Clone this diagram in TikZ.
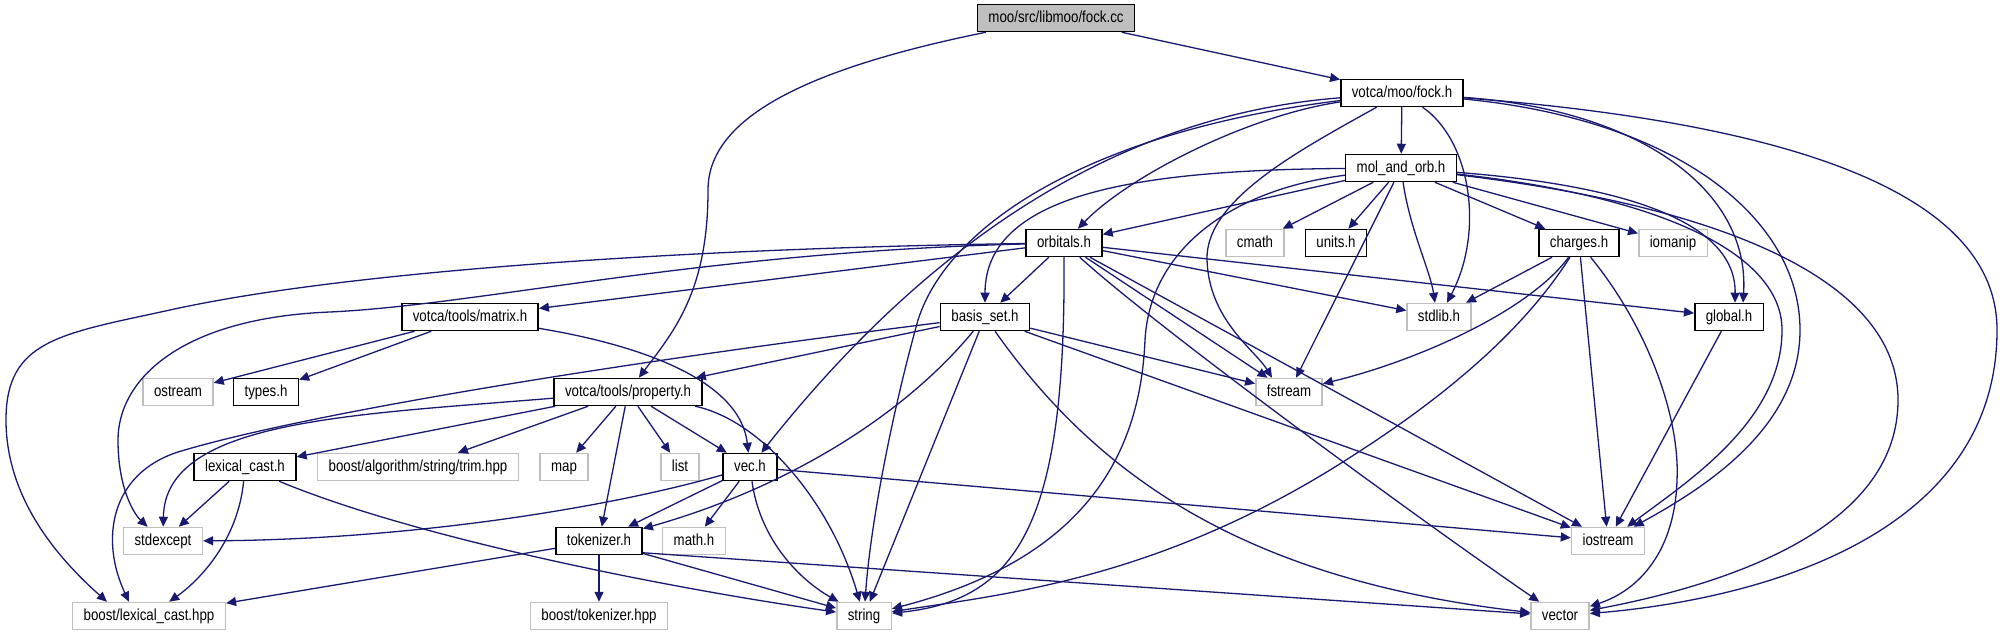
\documentclass[tikz,border=0pt]{standalone}
\usepackage{fontspec}
\setmainfont{Liberation Sans}[FakeStretch=0.83]
\usepackage{tikz}
\usetikzlibrary{arrows.meta}
\definecolor{edgeblue}{HTML}{191970}
\definecolor{sysgray}{HTML}{BFBFBF}
\definecolor{rootgray}{HTML}{BFBFBF}

\begin{document}
\begin{tikzpicture}[
  x=0.5pt, y=-0.5pt,
  fbox/.style = {draw=black, fill=white, line width=0.75pt, inner xsep=5.5pt, inner ysep=0pt, minimum height=13.5pt, text height=6pt, text depth=1.6pt, font=\fontsize{8}{9}\selectfont},
  sbox/.style = {fbox, draw=sysgray},
  rbox/.style = {fbox, fill=rootgray},
  dep/.style  = {-{Triangle[length=5pt,width=4.5pt]}, line width=0.65pt, color=edgeblue},
]
\useasboundingbox (0,0) rectangle (2005,635);
%%--- rows 0-3 ---
\node[rbox] (fockcc)   at (1056,18)  {moo/src/libmoo/fock.cc};
\node[fbox] (fockh)    at (1402,93)  {votca/moo/fock.h};
\node[fbox] (molorb)   at (1401,168) {mol\_and\_orb.h};
\node[fbox] (orbitals) at (1064,243) {orbitals.h};
\node[sbox] (cmath)    at (1255,243) {cmath};
\node[fbox] (units)    at (1336,243) {units.h};
\node[fbox] (charges)  at (1579,243) {charges.h};
\node[sbox] (iomanip)  at (1673,243) {iomanip};
%%--- rows 4-5 ---
\node[fbox] (matrix)   at (470,317)  {votca/tools/matrix.h};
\node[fbox] (basisset) at (985,317)  {basis\_set.h};
\node[sbox] (stdlib)   at (1439,317) {stdlib.h};
\node[fbox] (globalh)  at (1729,317) {global.h};
\node[sbox] (ostream)  at (178,392)  {ostream};
\node[fbox] (types)    at (266,392)  {types.h};
\node[fbox] (property) at (628,392)  {votca/tools/property.h};
\node[sbox] (fstream)  at (1289,392) {fstream};
%%--- rows 6-8 ---
\node[fbox] (lexical)  at (245,467)  {lexical\_cast.h};
\node[sbox] (trim)     at (418,467)  {boost/algorithm/string/trim.hpp};
\node[sbox] (map)      at (564,467)  {map};
\node[sbox] (list)     at (680,467)  {list};
\node[fbox] (vec)      at (750,467)  {vec.h};
\node[sbox] (stdexcept) at (163,541) {stdexcept};
\node[fbox] (tokenizer) at (599,541) {tokenizer.h};
\node[sbox] (mathh)    at (694,541)  {math.h};
\node[sbox] (iostream) at (1608,541) {iostream};
\node[sbox] (blexical) at (149,616)  {boost/lexical\_cast.hpp};
\node[sbox] (btokenizer) at (599,616) {boost/tokenizer.hpp};
\node[sbox] (string)   at (864,616)  {string};
\node[sbox] (vector)   at (1560,616) {vector};
%%--- fock.cc ---
\draw[dep] (fockcc) -- (fockh);
\draw[dep] (fockcc) .. controls (800,70) and (708,120) .. (708,190) .. controls (708,290) and (675,330) .. (property);
%%--- fock.h ---
\draw[dep] (fockh) -- (molorb);
\draw[dep] (fockh) .. controls (1250,115) and (1130,175) .. (orbitals);
\draw[dep] (fockh) .. controls (1120,115) and (930,240) .. (vec);
\draw[dep] (fockh) .. controls (1100,130) and (950,220) .. (918,320) .. controls (890,420) and (870,530) .. (string);
\draw[dep] (fockh) .. controls (1300,150) and (1205,200) .. (1207,260) .. controls (1209,320) and (1255,350) .. ([xshift=-8.5pt]fstream.north);
\draw[dep] (fockh) .. controls (1470,140) and (1485,230) .. ([xshift=4pt]stdlib.north);
\draw[dep] (fockh) .. controls (1640,110) and (1750,190) .. ([xshift=7pt]globalh.north);
\draw[dep] (fockh) .. controls (1680,120) and (1800,220) .. (1800,330) .. controls (1800,430) and (1700,490) .. (iostream);
\draw[dep] (fockh) .. controls (1750,120) and (1997,180) .. (1997,330) .. controls (1997,540) and (1750,600) .. (vector);
%%--- mol_and_orb.h ---
\draw[dep] (molorb) -- (orbitals);
\draw[dep] (molorb) .. controls (1150,170) and (985,190) .. (basisset);
\draw[dep] (molorb) .. controls (1230,190) and (1150,250) .. (1145,340) .. controls (1140,460) and (1080,560) .. (string);
\draw[dep] (molorb) -- (cmath); \draw[dep] (molorb) -- (units);
\draw[dep] (molorb) .. controls (1410,230) and (1430,270) .. ([xshift=-2pt]stdlib.north);
\draw[dep] (molorb) -- (fstream); \draw[dep] (molorb) -- (charges); \draw[dep] (molorb) -- (iomanip);
\draw[dep] (molorb) .. controls (1620,185) and (1736,220) .. ([xshift=3pt]globalh.north);
\draw[dep] (molorb) .. controls (1650,195) and (1782,250) .. (1782,330) .. controls (1782,420) and (1690,480) .. (iostream);
\draw[dep] (molorb) .. controls (1750,210) and (1898,290) .. (1898,400) .. controls (1898,520) and (1750,580) .. (vector);
%%--- orbitals.h ---
\draw[dep] (orbitals) -- (matrix);
\draw[dep] (orbitals) .. controls (700,252) and (480,305) .. (330,312) .. controls (180,318) and (118,380) .. (118,440) .. controls (118,490) and (135,515) .. (stdexcept);
\draw[dep] (orbitals) .. controls (700,248) and (350,270) .. (170,310) .. controls (60,334) and (6,340) .. (6,420) .. controls (6,500) and (60,560) .. ([xshift=-21pt]blexical.north);
\draw[dep] (orbitals) -- (basisset);
\draw[dep] (orbitals.south) .. controls (1066,520) and (1020,600) .. (string);
\draw[dep] (orbitals) -- (stdlib); \draw[dep] (orbitals) -- (globalh);
\draw[dep] (orbitals) -- (fstream); \draw[dep] (orbitals) -- (iostream);
\draw[dep] (orbitals) .. controls (1160,330) and (1420,520) .. (vector);
%%--- matrix.h ---
\draw[dep] (matrix) -- (ostream); \draw[dep] (matrix) -- (types);
\draw[dep] (matrix) .. controls (640,345) and (740,380) .. (vec);
%%--- basis_set.h ---
\draw[dep] (basisset) -- (property);
\draw[dep] (basisset) .. controls (600,365) and (300,415) .. (178,452) .. controls (110,474) and (100,540) .. ([xshift=-10pt]blexical.north);
\draw[dep] (basisset) -- (fstream); \draw[dep] (basisset) -- (string);
\draw[dep] (basisset) .. controls (900,420) and (780,490) .. (tokenizer);
\draw[dep] (basisset) -- (iostream);
\draw[dep] (basisset) .. controls (1100,480) and (1250,580) .. (vector);
%%--- property.h ---
\draw[dep] (property) -- (lexical); \draw[dep] (property) -- (trim); \draw[dep] (property) -- (map);
\draw[dep] (property) -- (list); \draw[dep] (property) -- (vec); \draw[dep] (property) -- (tokenizer);
\draw[dep] (property) .. controls (760,420) and (830,500) .. (string);
\draw[dep] (property) .. controls (350,415) and (165,420) .. (stdexcept);
%%--- lexical_cast.h ---
\draw[dep] (lexical) -- (stdexcept);
\draw[dep] (lexical) .. controls (238,540) and (200,580) .. (blexical);
\draw[dep] (lexical) .. controls (420,540) and (680,590) .. (string);
%%--- vec.h ---
\draw[dep] (vec) .. controls (600,510) and (400,540) .. (stdexcept);
\draw[dep] (vec) -- (tokenizer); \draw[dep] (vec) -- (mathh);
\draw[dep] (vec) .. controls (760,540) and (800,580) .. (string);
\draw[dep] (vec) -- (iostream);
%%--- tokenizer.h ---
\draw[dep] (tokenizer) -- (blexical); \draw[dep] (tokenizer) -- (btokenizer);
\draw[dep] (tokenizer) -- (string); \draw[dep] (tokenizer.-15) -- (vector);
%%--- charges.h, global.h ---
\draw[dep] (charges) -- (stdlib);
\draw[dep] (charges) .. controls (1530,310) and (1420,360) .. (fstream);
\draw[dep] (charges) .. controls (1530,320) and (1460,390) .. (1330,470) .. controls (1150,580) and (1000,595) .. (string);
\draw[dep] (charges) -- (iostream);
\draw[dep] (charges) .. controls (1650,330) and (1680,420) .. (1677,480) .. controls (1675,550) and (1640,590) .. (vector);
\draw[dep] (globalh) -- (iostream);
\end{tikzpicture}
\end{document}
